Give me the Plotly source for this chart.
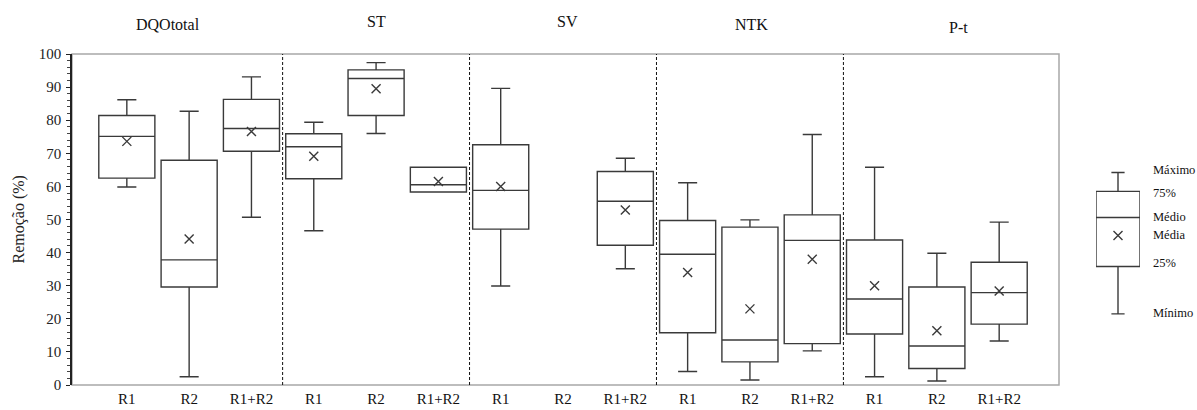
import plotly.graph_objects as go

# ---------------- data ----------------
groups = ["DQOtotal", "ST", "SV", "NTK", "P-t"]
categories = ["R1", "R2", "R1+R2"] * 5

minimum = [59.8, 2.5, 50.7, 46.6, 76.0, 58.3, 29.9, None, 35.1, 4.1, 1.5, 10.3, 2.5, 1.2, 13.3]
q1      = [62.5, 29.6, 70.6, 62.3, 81.4, 58.3, 47.1, None, 42.2, 15.8, 7.0, 12.5, 15.4, 5.0, 18.4]
median  = [75.1, 37.8, 77.5, 72.0, 92.6, 60.5, 58.8, None, 55.5, 39.5, 13.6, 43.7, 26.0, 11.8, 27.9]
q3      = [81.4, 67.9, 86.3, 75.9, 95.2, 65.8, 72.6, None, 64.5, 49.7, 47.7, 51.4, 43.8, 29.6, 37.1]
maximum = [86.2, 82.7, 93.1, 79.4, 97.4, 65.8, 89.6, None, 68.5, 61.1, 49.9, 75.7, 65.8, 39.8, 49.2]
mean    = [73.6, 44.1, 76.6, 69.1, 89.5, 61.5, 60.0, None, 52.9, 34.0, 23.0, 38.0, 30.0, 16.4, 28.4]

# legend example box
legend_stats = {"min": 21.5, "q1": 35.8, "median": 50.6, "q3": 58.5, "max": 64.2, "mean": 45.2}
legend_labels = ["Máximo", "75%", "Médio", "Média", "25%", "Mínimo"]
legend_label_y = [65.0, 58.1, 50.8, 45.4, 36.9, 21.8]

y_ticks = list(range(0, 101, 10))

# ---------------- figure ----------------
FONT = "Liberation Serif, Times New Roman, serif"
LINE = "#3a3a3a"
W, H = 1197, 410
ML, MT, MB = 72, 54, 25
plot_w = W - ML
main_right = (1059 - ML) / plot_w

idx = [i for i in range(len(categories)) if median[i] is not None]

fig = go.Figure()
fig.add_trace(go.Box(
    x=idx,
    q1=[q1[i] for i in idx],
    median=[median[i] for i in idx],
    q3=[q3[i] for i in idx],
    lowerfence=[minimum[i] for i in idx],
    upperfence=[maximum[i] for i in idx],
    width=0.9,
    whiskerwidth=0.34,
    boxpoints=False,
    fillcolor="white",
    line=dict(color=LINE, width=1.4),
    hoverinfo="skip",
    showlegend=False,
    xaxis="x", yaxis="y",
))
fig.add_trace(go.Scatter(
    x=idx, y=[mean[i] for i in idx], mode="markers",
    marker=dict(symbol="x-thin", size=9, line=dict(color=LINE, width=1.4)),
    hoverinfo="skip", showlegend=False, xaxis="x", yaxis="y",
))

# legend box
fig.add_trace(go.Box(
    x=[0], q1=[legend_stats["q1"]], median=[legend_stats["median"]], q3=[legend_stats["q3"]],
    lowerfence=[legend_stats["min"]], upperfence=[legend_stats["max"]],
    width=1.0, whiskerwidth=0.3, boxpoints=False, fillcolor="white",
    line=dict(color=LINE, width=1.4), hoverinfo="skip", showlegend=False,
    xaxis="x2", yaxis="y",
))
fig.add_trace(go.Scatter(
    x=[0], y=[legend_stats["mean"]], mode="markers",
    marker=dict(symbol="x-thin", size=9, line=dict(color=LINE, width=1.4)),
    hoverinfo="skip", showlegend=False, xaxis="x2", yaxis="y",
))

shapes = [dict(type="rect", xref="x domain", yref="y domain", x0=0, x1=1, y0=0, y1=1,
               line=dict(color="#a8a8a8", width=1.5), layer="below")]
for xs in [2.5, 5.5, 8.5, 11.5]:
    shapes.append(dict(type="line", xref="x", yref="y", x0=xs, x1=xs, y0=0, y1=100,
                       line=dict(color="#111", width=1, dash="3px,2px")))

def py2paper(py):
    return (H - MB - py) / (H - MT - MB)

annotations = []
title_x = [0.66, 4.0, 7.07, 10.03, 13.35]
title_py = [24, 21, 21, 24, 28]
for g, xg, pyv in zip(groups, title_x, title_py):
    annotations.append(dict(text=g, x=xg, xref="x", y=py2paper(pyv), yref="paper",
                            xanchor="center", yanchor="middle",
                            showarrow=False, font=dict(family=FONT, size=16, color="#111")))
for lab, ly in zip(legend_labels, legend_label_y):
    annotations.append(dict(text=lab, x=(1151 - ML) / plot_w, xref="paper", xanchor="left",
                            y=ly, yref="y", yanchor="middle", showarrow=False,
                            font=dict(family=FONT, size=12.5, color="#111")))
annotations.append(dict(text="Remoção (%)", textangle=-90, x=(18 - ML) / plot_w, xref="paper",
                        xanchor="center", y=0.5, yref="paper", yanchor="middle", showarrow=False,
                        font=dict(family=FONT, size=16, color="#222")))

fig.update_layout(
    width=W, height=H,
    margin=dict(l=ML, r=0, t=MT, b=MB),
    paper_bgcolor="white", plot_bgcolor="white",
    xaxis=dict(domain=[0, main_right], range=[-0.88, 14.96], tickvals=list(range(len(categories))),
               ticktext=categories, showgrid=False, zeroline=False, showline=False, ticks="",
               tickfont=dict(family=FONT, size=15, color="#111"), ticklabelstandoff=3),
    xaxis2=dict(domain=[(1096 - ML) / plot_w, (1140 - ML) / plot_w], range=[-0.5, 0.5],
                visible=False, anchor="y"),
    yaxis=dict(range=[0, 100], tickvals=y_ticks, showgrid=False, zeroline=False,
               showline=True, linecolor="#222", linewidth=1.5, ticks="outside", ticklen=4,
               tickcolor="#222", tickfont=dict(family=FONT, size=15, color="#222"),
               minor=dict(dtick=2, ticks="outside", ticklen=3, tickcolor="#444"),
               ticklabelstandoff=2),
    shapes=shapes, annotations=annotations,
)

fig.write_html("out.html", config={"displayModeBar": False},
               post_script="document.body.style.margin='0';document.body.style.padding='0';"
                           "document.body.style.overflow='hidden';")
